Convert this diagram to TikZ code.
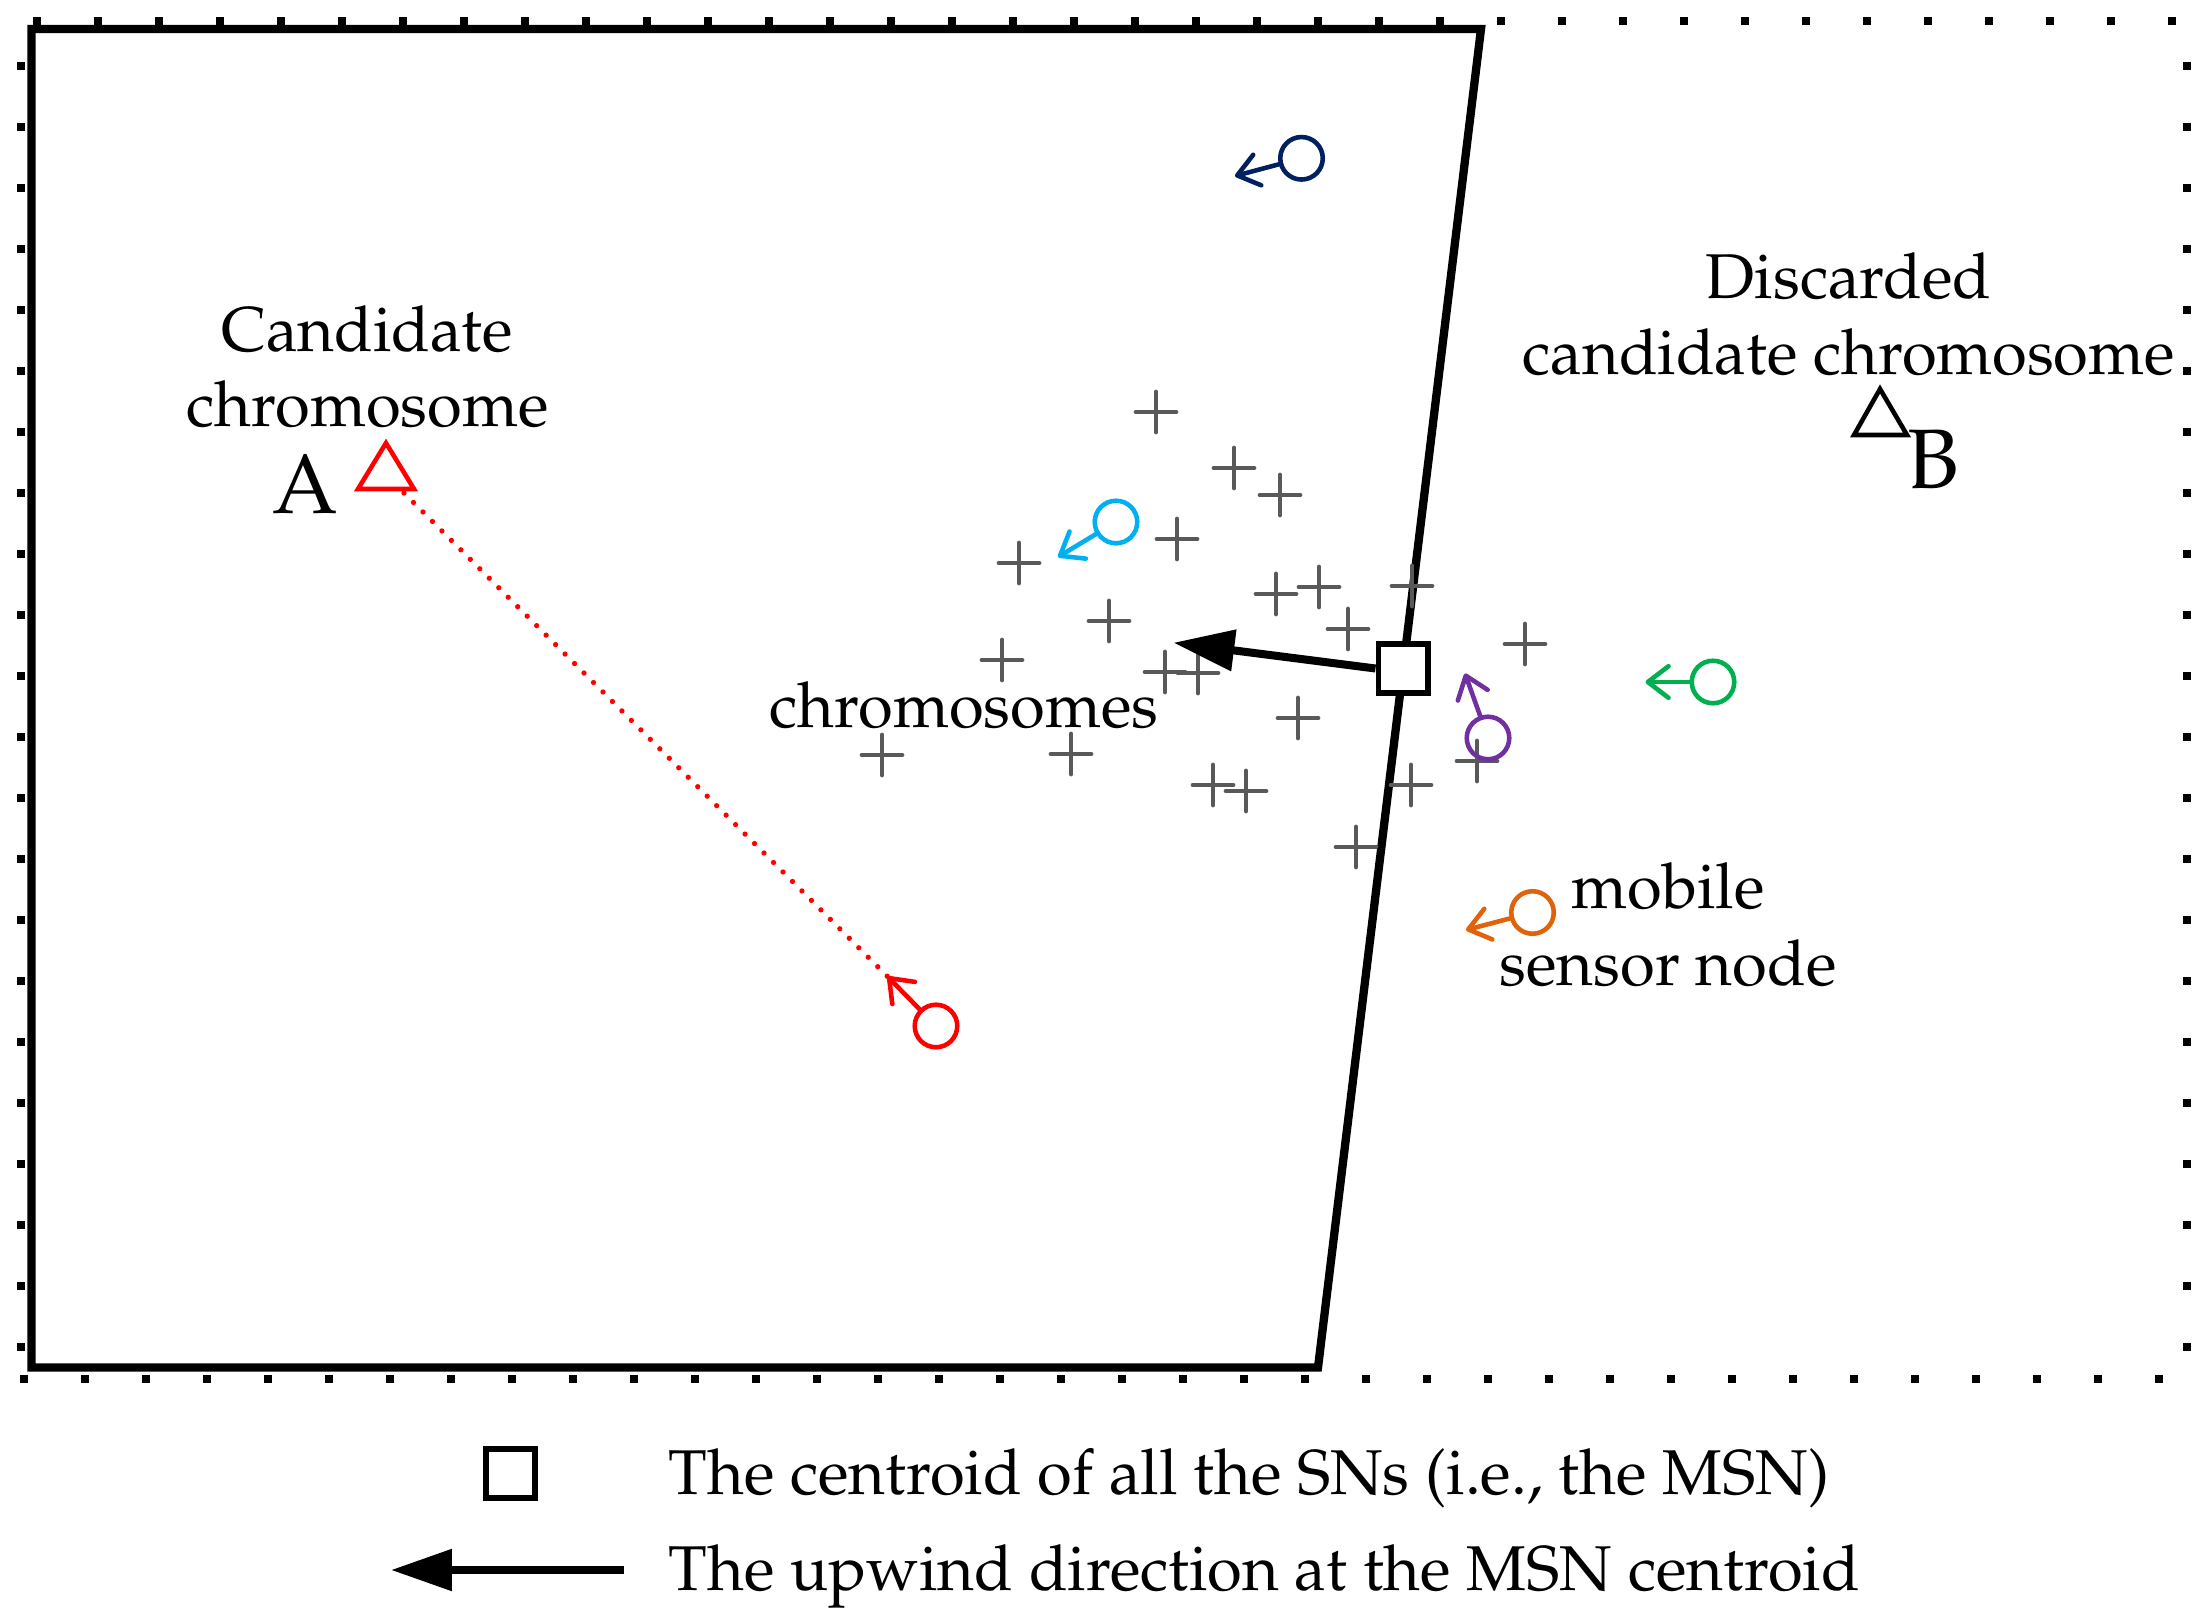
\documentclass[tikz,border=0pt]{standalone}
\usepackage[T1]{fontenc}
\usepackage{mathpazo}
\usetikzlibrary{arrows.meta}
\definecolor{navyc}{HTML}{002060}
\definecolor{cyanc}{HTML}{00B0F0}
\definecolor{greenc}{HTML}{00B050}
\definecolor{purplec}{HTML}{7030A0}
\definecolor{orangec}{HTML}{E2620A}
\definecolor{redc}{HTML}{FF0000}
\definecolor{grayc}{HTML}{595959}
\begin{document}
\begin{tikzpicture}[x=0.01cm,y=-0.01cm,
  lbl/.style={anchor=base,inner sep=0pt,font=\fontsize{18}{22}\selectfont},
  biglbl/.style={anchor=base,inner sep=0pt,font=\fontsize{24}{28}\selectfont},
  leglbl/.style={anchor=base west,inner sep=0pt,font=\fontsize{18}{22}\selectfont},
  sensor/.style={circle,draw,fill=none,minimum size=0.425cm,inner sep=0pt,line width=1.3pt},
  sensarrow/.style={line width=1.3pt,line cap=round,-{Straight Barb[length=5.9pt,width=9pt,round]}},
  msnbox/.style={rectangle,draw,fill=white,line width=1.7pt,minimum size=0.49cm,inner sep=0pt},
  windarrow/.style={line width=2.28pt,-{Triangle[length=17.3pt,width=11.4pt]}},
  plusmark/.style={draw=grayc,line width=1.35pt,line cap=round},
  trimark/.style={line width=1.3pt,line join=miter}]
\useasboundingbox (0,0) rectangle (2206,1619);

% dotted axis box (tick squares)
\foreach \k in {0,...,35} \fill ({36.6+61*\k-4},17) rectangle ++(8,8);
\foreach \k in {0,...,35} \fill ({24+61*\k-4},1375) rectangle ++(8,8);
\foreach \k in {0,...,21} \fill (17,{65.7+61*\k-4}) rectangle ++(8,8);
\foreach \k in {0,...,21} \fill (2183,{65.7+61*\k-4}) rectangle ++(8,8);

% feasible region polygon
\draw[line width=2.36pt,line join=miter] (31.5,29) -- (1481,29) -- (1318,1367.5) -- (31.5,1367.5) -- cycle;

% chromosomes (plus marks)
\foreach \px/\py in {1156/412,1234/468,1280/495,1177/539,1019/563,1109/621,1276/594,1319/587,
  1412/586,1348/629,1002/660,1165/672,1198/673,1525/644,1298/718,882/755,1071/754,1213/785,
  1246/791,1411/785,1477/761,1356/847}
  \draw[plusmark] (\px-20,\py) -- (\px+20,\py) (\px,\py-20) -- (\px,\py+20);

% candidate chromosome A (red triangle)
\draw[trimark,redc] (386,443) -- (358,489) -- (414,489) -- cycle;
\coordinate (Astart) at (404,493);
% discarded chromosome B (black triangle)
\draw[trimark,black] (1880,389) -- (1854,435) -- (1907,435) -- cycle;

% mobile sensor nodes
\node[sensor,draw=navyc] (navy) at (1301.5,158.3) {};
\coordinate (navytip) at (1235,176);
\node[sensor,draw=cyanc] (cyan) at (1116,522) {};
\coordinate (cyantip) at (1058,557);
\node[sensor,draw=greenc] (green) at (1713,682) {};
\coordinate (greentip) at (1645.5,682);
\node[sensor,draw=purplec] (purple) at (1488,738) {};
\coordinate (purpletip) at (1465,673.5);
\node[sensor,draw=orangec] (orange) at (1532.5,912.5) {};
\coordinate (orangetip) at (1466,930);
\node[sensor,draw=redc] (red) at (936,1026) {};
\coordinate (redtip) at (887.5,976.5);

\draw[sensarrow,navyc] (navy) -- (navytip);
\draw[sensarrow,cyanc] (cyan) -- (cyantip);
\draw[sensarrow,greenc] (green) -- (greentip);
\draw[sensarrow,purplec] (purple) -- (purpletip);
\draw[sensarrow,orangec] (orange) -- (orangetip);
\draw[sensarrow,redc] (red) -- (redtip);

% dotted red path from A to red node
\draw[redc,line width=1.5pt,line cap=round,dash pattern=on 0.01pt off 3.8pt] (Astart) -- (redtip);

% MSN centroid and upwind arrow
\coordinate (windtip) at (1173.5,642.7);
\node[msnbox] (msn) at (1403,668.5) {};
\draw[windarrow] (msn.west) -- (windtip);
\node[msnbox] at (msn) {};

% labels
\node[lbl] (candA1) at (367,351.3) {Candidate};
\node[lbl] (candA2) at (367.6,426.7) {chromosome};
\node[biglbl] (labA) at (305,514) {A};
\node[lbl] (disc1) at (1848.5,298.5) {Discarded};
\node[lbl] (disc2) at (1848.5,374.3) {candidate chromosome};
\node[biglbl] (labB) at (1933,489) {B};
\node[lbl] (chroms) at (964,728) {chromosomes};
\node[lbl] (mob1) at (1668,908) {mobile};
\node[lbl] (mob2) at (1668,985) {sensor node};

% legend
\node[msnbox] (legbox) at (510.7,1473.7) {};
\node[leglbl] (legt1) at (668,1494.5) {The centroid of all the SNs (i.e., the MSN)};
\coordinate (legtip) at (391,1570);
\coordinate (legtail) at (624,1570);
\draw[windarrow] (legtail) -- (legtip);
\node[leglbl] (legt2) at (668,1590) {The upwind direction at the MSN centroid};
\end{tikzpicture}
\end{document}
